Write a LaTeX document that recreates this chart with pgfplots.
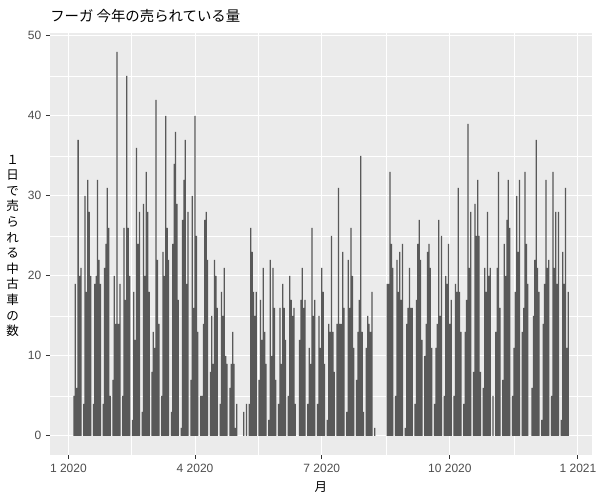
\documentclass[border=0pt]{standalone}
\usepackage{pgfplots}
\pgfplotsset{compat=1.18}
\usepackage{pgfplotstable}
\usepackage{fontspec}
\setmainfont{Liberation Sans}
\newfontfamily\jp{Noto Sans CJK JP}
\definecolor{ggbg}{HTML}{EBEBEB}
\definecolor{ggbar}{HTML}{595959}
\definecolor{ggtick}{HTML}{333333}
\definecolor{gglab}{HTML}{4D4D4D}

\pgfplotstableread{
day val
4 5
5 19
6 6
7 37
8 20
9 21
11 4
12 30
13 18
14 32
15 28
16 20
18 4
19 19
20 20
21 32
22 22
23 19
25 4
26 21
27 24
28 31
29 26
30 5
32 7
33 20
34 14
35 48
36 14
37 19
39 5
40 26
41 17
42 45
43 26
44 20
46 2
47 18
48 12
49 36
50 24
51 28
53 3
54 29
55 20
56 33
57 28
58 18
60 8
61 13
62 11
63 42
64 22
65 14
67 5
68 23
69 20
70 40
71 26
72 22
74 3
75 24
76 34
77 38
78 29
79 17
81 1
82 27
83 32
84 37
85 19
86 28
88 7
89 30
90 16
91 40
92 25
93 13
95 5
96 5
97 14
98 27
99 28
100 22
102 8
103 15
104 9
105 22
106 20
107 16
109 4
110 18
111 15
112 21
113 10
114 9
116 6
117 9
118 13
119 9
120 1
121 4
126 3
128 4
130 4
131 26
132 23
133 18
134 15
135 18
137 7
138 17
139 12
140 21
141 13
142 9
144 2
145 22
146 10
147 21
148 16
149 7
151 4
152 16
153 9
154 19
155 16
156 12
158 5
159 20
160 17
161 15
162 16
163 4
166 12
167 17
168 21
169 16
170 17
172 4
173 11
174 9
175 26
176 15
177 17
179 4
180 15
181 11
182 21
183 18
184 9
186 2
187 14
188 13
189 25
190 13
191 8
193 14
194 31
195 14
196 14
197 23
198 16
200 3
201 22
202 16
203 26
204 20
205 11
207 7
208 13
209 17
210 35
211 13
212 3
214 11
215 15
216 14
217 13
218 18
220 1
229 19
230 19
231 33
232 24
233 21
235 5
236 22
237 18
238 23
239 17
240 24
242 1
243 14
244 16
245 21
246 16
247 16
249 4
250 17
251 24
252 27
253 22
254 12
256 10
257 14
258 23
259 24
260 21
261 11
263 4
264 11
265 14
266 27
267 15
268 25
270 5
271 20
272 19
273 24
274 14
275 17
277 5
278 19
279 18
280 31
281 18
282 13
284 4
285 13
286 17
287 39
288 21
289 28
291 8
292 29
293 25
294 32
295 25
296 8
298 6
299 21
300 18
301 28
302 20
303 21
305 5
307 13
308 21
309 33
310 16
312 7
313 24
314 20
315 27
316 32
317 26
319 5
320 11
321 18
322 30
323 23
324 32
326 13
327 16
328 33
329 24
330 19
333 6
334 15
335 22
336 37
337 21
338 18
340 2
341 14
342 19
343 32
344 21
345 22
347 5
348 33
349 21
350 28
351 19
352 28
354 2
355 23
356 19
357 31
358 11
359 18
}\sales

\begin{document}
\begin{tikzpicture}
\useasboundingbox (0,0) rectangle (450pt,375pt);
\begin{axis}[
  at={(37.5pt,33.75pt)}, anchor=south west,
  scale only axis, width=406.5pt, height=316.8pt,
  xmin=-13.2, xmax=376.1, ymin=-2.4, ymax=50.4,
  axis background/.style={fill=ggbg},
  axis x line*=bottom, axis y line*=left,
  axis line style={draw=none},
  xtick={0,91,182,274,366},
  xticklabels={1 2020,4 2020,7 2020,10 2020,1 2021},
  minor xtick={45.5,136.5,228,320},
  ytick={0,10,20,30,40,50},
  yticklabels={0,10,20,30,40,50},
  minor ytick={5,15,25,35,45},
  grid=both,
  major grid style={white, line width=0.8pt},
  minor grid style={white, line width=0.4pt},
  tick align=outside,
  major tick length=3pt, minor tick length=0pt,
  tick style={ggtick, line width=0.8pt},
  ticklabel style={font=\fontsize{9}{10}\selectfont, text=gglab},
]
\addplot[ybar, bar width=0.9, bar shift=0pt, fill=ggbar, draw=none] table[x=day, y=val] {\sales};
\end{axis}
\node[anchor=west, inner sep=0pt, font=\jp\fontsize{10.8}{12}\selectfont] at (37.5pt,363pt) {フーガ 今年の売られている量};
\node[inner sep=0pt, font=\jp\fontsize{9.4}{11}\selectfont] at (240.75pt,9.75pt) {月};
\node[inner sep=0pt, align=center, font=\jp\fontsize{9.4}{11.7}\selectfont] at (9.4pt,190.6pt) {１\\日\\で\\売\\ら\\れ\\る\\中\\古\\車\\の\\数};
\end{tikzpicture}
\end{document}
